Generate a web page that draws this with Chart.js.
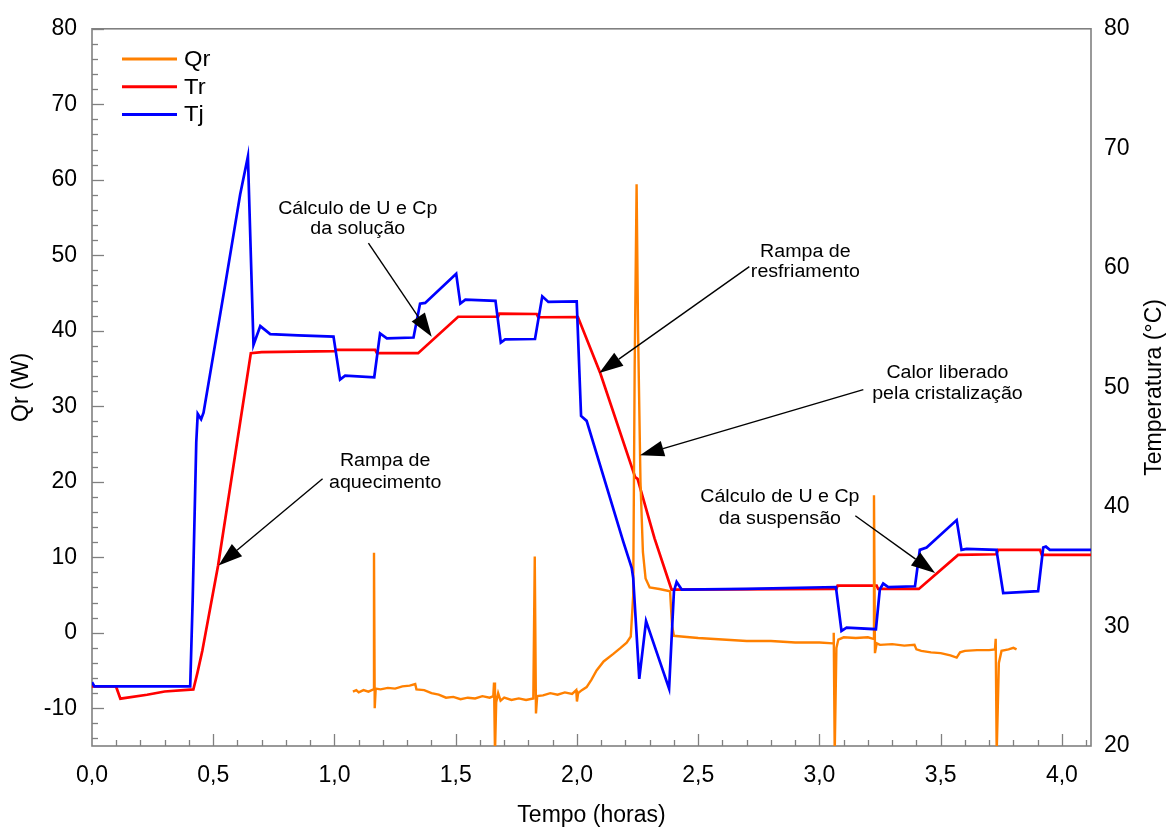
<!DOCTYPE html>
<html>
<head>
<meta charset="utf-8">
<script src="https://cdn.jsdelivr.net/npm/chart.js@4.4.1/dist/chart.umd.min.js"></script>
<style>
  body { margin: 0; background: #fff; }
  #wrap { width: 1168px; height: 827px; }
</style>
</head>
<body>
<div id="wrap"><canvas id="chart"></canvas></div>
<script>
// Qr (W), left axis
const qrTime = [1.076, 1.09, 1.10, 1.12, 1.14, 1.16, 1.163, 1.166, 1.17, 1.19, 1.22, 1.25, 1.28, 1.31, 1.333, 1.338,
    1.37, 1.40, 1.43, 1.46, 1.49, 1.52, 1.55, 1.58, 1.61, 1.64, 1.655, 1.658, 1.662, 1.667, 1.675, 1.685, 1.70,
    1.73, 1.76, 1.79, 1.82, 1.826, 1.831, 1.836, 1.86, 1.89, 1.92, 1.95, 1.98, 1.997, 2.0, 2.005, 2.02, 2.04,
    2.06, 2.081, 2.11, 2.15, 2.18, 2.205, 2.222, 2.232, 2.238, 2.246, 2.252, 2.262, 2.272, 2.283, 2.30, 2.34,
    2.384, 2.392, 2.40, 2.43, 2.5, 2.6, 2.7, 2.8, 2.9, 3.0, 3.056, 3.059, 3.063, 3.07, 3.078, 3.10, 3.15, 3.20,
    3.222, 3.225, 3.229, 3.236, 3.25, 3.30, 3.35, 3.392, 3.40, 3.42, 3.46, 3.50, 3.54, 3.566, 3.58, 3.60, 3.65,
    3.70, 3.724, 3.727, 3.731, 3.74, 3.751, 3.78, 3.80, 3.813];
const qrPower = [-7.8, -7.6, -7.9, -7.6, -7.8, -7.5, 10.6, -10.0, -7.4, -7.5, -7.3, -7.4, -7.1, -7.0, -6.8, -7.5,
    -7.6, -8.0, -8.2, -8.6, -8.5, -8.8, -8.6, -8.7, -8.4, -8.6, -8.4, -6.6, -16, -9.2, -8.0, -9.0, -8.6,
    -8.9, -8.7, -8.9, -8.7, 10.1, -10.7, -8.4, -8.3, -8.0, -8.2, -7.9, -8.1, -7.6, -9.1, -8.0, -7.6, -7.2,
    -6.2, -5.0, -3.8, -2.8, -2.0, -1.3, -0.5, 5, 35, 59.4, 40, 20, 10.7, 7.2, 6.0, 5.8,
    5.5, 1.0, -0.4, -0.5, -0.7, -0.9, -1.1, -1.1, -1.3, -1.3, -1.4, 0.0, -16, -2.0, -0.9, -0.6, -0.7, -0.6,
    -0.8, 18.2, -2.7, -1.4, -1.6, -1.5, -1.7, -1.6, -2.2, -2.4, -2.6, -2.7, -3.0, -3.3, -2.6, -2.4, -2.3,
    -2.3, -2.2, -0.8, -16, -4.0, -2.4, -2.2, -2.0, -2.2];

// Tr (°C), right axis
const trTime = [0, 0.099, 0.117, 0.227, 0.3, 0.418, 0.435, 0.455, 0.52, 0.655, 0.7, 1.0, 1.01, 1.168, 1.175, 1.345,
    1.51, 1.675, 1.68, 1.834, 1.84, 2.004, 2.096, 2.24, 2.25, 2.32, 2.39, 3.07, 3.075, 3.236, 3.242, 3.41,
    3.572, 3.73, 3.737, 3.91, 3.917, 4.12];
const trTemp = [24.98, 24.98, 23.96, 24.29, 24.56, 24.73, 26.14, 27.97, 35.10, 52.86, 52.95, 53.03, 53.14, 53.14, 52.86, 52.86,
    55.91, 55.91, 56.18, 56.14, 55.87, 55.89, 51.20, 42.49, 42.35, 37.37, 33.09, 33.14, 33.42, 33.42, 33.14, 33.14,
    35.99, 36.04, 36.41, 36.41, 35.99, 35.99];

// Tj (°C), right axis
const tjTime = [0, 0.01, 0.405, 0.415, 0.43, 0.436, 0.45, 0.46, 0.55, 0.611, 0.643, 0.666, 0.694, 0.735, 0.85,
    0.996, 1.023, 1.044, 1.164, 1.188, 1.216, 1.326, 1.353, 1.374, 1.502, 1.519, 1.54, 1.664, 1.686, 1.704,
    1.827, 1.857, 1.882, 1.999, 2.017, 2.04, 2.191, 2.226, 2.232, 2.257, 2.285, 2.38, 2.40, 2.411, 2.432, 2.7,
    3.068, 3.091, 3.112, 3.233, 3.249, 3.263, 3.284, 3.394, 3.414, 3.442, 3.566, 3.586, 3.607, 3.73, 3.758,
    3.902, 3.923, 3.934, 3.95, 4.12];
const tjTemp = [25.34, 24.98, 24.98, 32.1, 45.4, 47.78, 47.33, 47.88, 58.67, 66.14, 69.32, 53.55, 55.13, 54.46, 54.36,
    54.25, 50.65, 50.98, 50.85, 54.52, 54.11, 54.17, 57.01, 57.07, 59.50, 57.01, 57.34, 57.24, 53.75, 54.02,
    54.05, 57.62, 57.15, 57.20, 47.61, 47.20, 37.10, 34.88, 34.05, 25.62, 30.46, 24.79, 32.95, 33.72, 33.09, 33.15,
    33.30, 29.63, 29.90, 29.77, 33.09, 33.59, 33.30, 33.36, 36.41, 36.60, 38.90, 36.41, 36.49, 36.41, 32.80,
    32.95, 36.60, 36.68, 36.41, 36.41];

// axis ticks
const timeTicks = [0, 0.5, 1.0, 1.5, 2.0, 2.5, 3.0, 3.5, 4.0];
const qrTicks = [-10, 0, 10, 20, 30, 40, 50, 60, 70, 80];
const tempTicks = [20, 30, 40, 50, 60, 70, 80];

const FONT = "'Liberation Sans', Arial, sans-serif";
const GREY = '#808080';

// annotation texts with arrows (x in hours, y in Qr units)
const notes = [
    { lines: ['Cálculo de U e Cp', 'da solução'], at: [1.096, 56.1, 53.5], from: [1.140, 51.6], to: [1.401, 39.2] },
    { lines: ['Rampa de', 'aquecimento'], at: [1.209, 22.8, 19.8], from: [0.951, 20.4], to: [0.522, 8.9] },
    { lines: ['Rampa de', 'resfriamento'], at: [2.942, 50.4, 47.8], from: [2.711, 48.5], to: [2.092, 34.4] },
    { lines: ['Calor liberado', 'pela cristalização'], at: [3.528, 34.4, 31.6], from: [3.181, 32.2], to: [2.260, 23.5] },
    { lines: ['Cálculo de U e Cp', 'da suspensão'], at: [2.837, 18.0, 15.0], from: [3.148, 15.5], to: [3.477, 7.9] }
];

function toPoints(xs, ys) {
    return xs.map((x, i) => ({ x: x, y: ys[i] }));
}

// text drawn slightly wider, like the original figure
function wideText(ctx, s, x, y, sx) {
    ctx.save();
    ctx.translate(x, y);
    ctx.scale(sx, 1);
    ctx.fillText(s, 0, 0);
    ctx.restore();
}

const frame = {
    id: 'frame',
    beforeDatasetsDraw(chart) {
        const { ctx, chartArea: a, scales } = chart;
        ctx.save();
        ctx.strokeStyle = GREY;
        ctx.lineWidth = 1.3;
        // minor / major ticks pointing inward
        for (let v = -14; v <= 80; v += 2) {
            const y = Math.round(scales.y.getPixelForValue(v)) + 0.5;
            const len = v % 10 === 0 ? 12 : 6;
            ctx.beginPath(); ctx.moveTo(a.left, y); ctx.lineTo(a.left + len, y); ctx.stroke();
        }
        for (let i = 1; i <= 41; i++) {
            const t = i / 10;
            const x = Math.round(scales.x.getPixelForValue(t)) + 0.5;
            const len = i % 5 === 0 ? 12 : 6;
            ctx.beginPath(); ctx.moveTo(x, a.bottom); ctx.lineTo(x, a.bottom - len); ctx.stroke();
        }
        ctx.lineWidth = 1.6;
        ctx.strokeRect(a.left, a.top, a.right - a.left, a.bottom - a.top);
        ctx.restore();
    },
    afterDraw(chart) {
        const { ctx, scales } = chart;
        ctx.save();
        // right axis title, reading bottom to top
        ctx.fillStyle = '#000';
        ctx.font = '23px ' + FONT;
        ctx.textAlign = 'center';
        ctx.textBaseline = 'middle';
        ctx.translate(1155, (chart.chartArea.top + chart.chartArea.bottom) / 2);
        ctx.rotate(-Math.PI / 2);
        ctx.fillText('Temperatura (°C)', 0, 0);
        ctx.restore();

        // legend
        ctx.save();
        ctx.font = '22px ' + FONT;
        ctx.textBaseline = 'middle';
        chart.data.datasets.forEach((ds, i) => {
            const y = 59 + i * 27.7;
            ctx.strokeStyle = ds.borderColor;
            ctx.lineWidth = 3;
            ctx.beginPath(); ctx.moveTo(122, y); ctx.lineTo(177, y); ctx.stroke();
            ctx.fillStyle = '#000';
            wideText(ctx, ds.label, 184, y + 1, 1.08);
        });
        ctx.restore();

        // annotations
        ctx.save();
        ctx.font = '18px ' + FONT;
        ctx.textAlign = 'center';
        ctx.textBaseline = 'middle';
        ctx.fillStyle = '#000';
        ctx.strokeStyle = '#000';
        notes.forEach(n => {
            const tx = scales.x.getPixelForValue(n.at[0]);
            n.lines.forEach((s, k) => wideText(ctx, s, tx, scales.y.getPixelForValue(n.at[1 + k]), 1.09));
            const x1 = scales.x.getPixelForValue(n.from[0]), y1 = scales.y.getPixelForValue(n.from[1]);
            const x2 = scales.x.getPixelForValue(n.to[0]), y2 = scales.y.getPixelForValue(n.to[1]);
            const ang = Math.atan2(y2 - y1, x2 - x1);
            const hl = 24, hw = 8;
            const bx = x2 - hl * Math.cos(ang), by = y2 - hl * Math.sin(ang);
            ctx.lineWidth = 1.4;
            ctx.beginPath(); ctx.moveTo(x1, y1); ctx.lineTo(bx, by); ctx.stroke();
            ctx.beginPath();
            ctx.moveTo(x2, y2);
            ctx.lineTo(bx + hw * Math.sin(ang), by - hw * Math.cos(ang));
            ctx.lineTo(bx - hw * Math.sin(ang), by + hw * Math.cos(ang));
            ctx.closePath();
            ctx.fill();
        });
        ctx.restore();
    }
};

new Chart(document.getElementById('chart'), {
    type: 'line',
    data: {
        datasets: [
            { label: 'Qr', data: toPoints(qrTime, qrPower), yAxisID: 'y', borderColor: '#ff8000', borderWidth: 2.4, order: 1 },
            { label: 'Tr', data: toPoints(trTime, trTemp), yAxisID: 'y2', borderColor: '#ff0000', borderWidth: 2.7, order: 2 },
            { label: 'Tj', data: toPoints(tjTime, tjTemp), yAxisID: 'y2', borderColor: '#0000ff', borderWidth: 2.7, order: 0 }
        ]
    },
    options: {
        responsive: true,
        maintainAspectRatio: false,
        animation: false,
        layout: { padding: { top: 23, left: 0, right: 0, bottom: 0 } },
        elements: { point: { radius: 0 }, line: { tension: 0 } },
        plugins: { legend: { display: false }, tooltip: { enabled: false } },
        scales: {
            x: {
                type: 'linear',
                min: 0,
                max: 4.12,
                afterBuildTicks: s => { s.ticks = timeTicks.map(v => ({ value: v })); },
                afterFit: s => { s.height = 81; },
                grid: { display: false, drawTicks: false },
                border: { display: false },
                ticks: {
                    color: '#000',
                    padding: 16,
                    maxRotation: 0,
                    font: { family: FONT, size: 23 },
                    callback: v => v.toFixed(1).replace('.', ',')
                },
                title: {
                    display: true,
                    text: 'Tempo (horas)',
                    color: '#000',
                    font: { family: FONT, size: 23, lineHeight: 1 },
                    padding: { top: 0, bottom: 0 }
                }
            },
            y: {
                position: 'left',
                min: -15,
                max: 80,
                afterBuildTicks: s => { s.ticks = qrTicks.map(v => ({ value: v })); },
                afterFit: s => { s.width = 92; },
                grid: { display: false, drawTicks: false },
                border: { display: false },
                ticks: { color: '#000', padding: 15, font: { family: FONT, size: 23 } },
                title: {
                    display: true,
                    text: 'Qr (W)',
                    color: '#000',
                    font: { family: FONT, size: 23 },
                    padding: { top: 8, bottom: 0 }
                }
            },
            y2: {
                position: 'right',
                min: 20,
                max: 80,
                afterBuildTicks: s => { s.ticks = tempTicks.map(v => ({ value: v })); },
                afterFit: s => { s.width = 77; },
                grid: { display: false, drawTicks: false },
                border: { display: false },
                ticks: { color: '#000', padding: 13, font: { family: FONT, size: 23 } }
            }
        }
    },
    plugins: [frame]
});
</script>
</body>
</html>
